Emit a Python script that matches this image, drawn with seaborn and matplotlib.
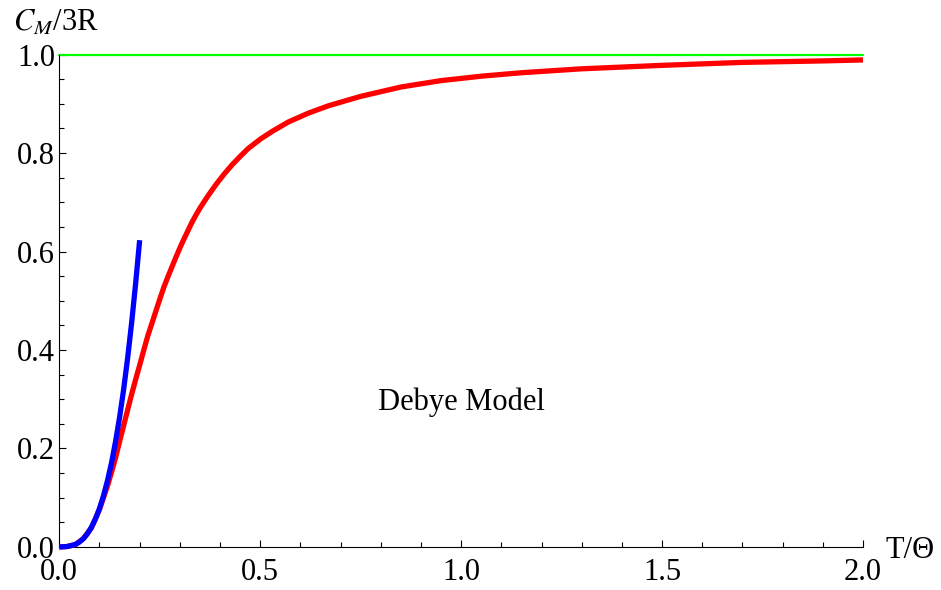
import numpy as np
import pandas as pd
import matplotlib
matplotlib.use("Agg")
import matplotlib.pyplot as plt
import seaborn as sns
from matplotlib.ticker import MultipleLocator, FixedLocator, FixedFormatter

# Debye model heat capacity (red)
debye_t = [0.00, 0.02, 0.04, 0.06, 0.08, 0.10, 0.12, 0.13, 0.14, 0.15, 0.16, 0.17, 0.18,
           0.19, 0.20, 0.21, 0.22, 0.23, 0.24, 0.25, 0.26, 0.27, 0.28, 0.29, 0.30, 0.31,
           0.32, 0.33, 0.34, 0.35, 0.37, 0.39, 0.41, 0.43, 0.45, 0.47, 0.50, 0.53, 0.57,
           0.62, 0.67, 0.75, 0.85, 0.95, 1.05, 1.15, 1.30, 1.50, 1.70, 1.90, 2.00]
debye_c = [0.000, 0.001, 0.005, 0.017, 0.039, 0.076, 0.124, 0.152, 0.181, 0.214, 0.246,
           0.278, 0.310, 0.340, 0.369, 0.399, 0.428, 0.453, 0.478, 0.503, 0.527, 0.548,
           0.568, 0.588, 0.607, 0.625, 0.642, 0.659, 0.674, 0.688, 0.713, 0.736, 0.757,
           0.776, 0.793, 0.809, 0.828, 0.844, 0.863, 0.881, 0.896, 0.915, 0.934, 0.947,
           0.956, 0.963, 0.971, 0.978, 0.984, 0.987, 0.989]

# Low-temperature T^3 law (blue)
lowt_t = [0.00, 0.02, 0.04, 0.05, 0.06, 0.07, 0.08, 0.09, 0.10, 0.11, 0.12, 0.13, 0.14,
          0.15, 0.16, 0.17, 0.18, 0.19, 0.20]
lowt_c = [0.000, 0.001, 0.005, 0.010, 0.017, 0.027, 0.040, 0.057, 0.078, 0.104, 0.135,
          0.171, 0.214, 0.263, 0.319, 0.383, 0.455, 0.535, 0.623]

# Classical (Dulong-Petit) limit (green)
classic_t = [0.0, 2.0]
classic_c = [1.0, 1.0]

x_ticks = [0.0, 0.5, 1.0, 1.5, 2.0]
x_labels = ["0.0", "0.5", "1.0", "1.5", "2.0"]
y_ticks = [0.0, 0.2, 0.4, 0.6, 0.8, 1.0]
y_labels = ["0.0", "0.2", "0.4", "0.6", "0.8", "1.0"]

sns.set_style("white")
plt.rcParams['font.family'] = ['Liberation Serif', 'DejaVu Serif']
plt.rcParams['mathtext.fontset'] = 'stix'
plt.rcParams['text.color'] = 'black'

FS = 22

fig = plt.figure(figsize=(9.41, 5.90), dpi=100)
ax = fig.add_axes([0.0630, 0.0729, 0.8541, 0.8347])

df_red = pd.DataFrame({"t": debye_t, "c": debye_c})
df_blue = pd.DataFrame({"t": lowt_t, "c": lowt_c})
df_green = pd.DataFrame({"t": classic_t, "c": classic_c})

sns.lineplot(data=df_green, x="t", y="c", ax=ax, color="#00FF00", linewidth=1.6,
             clip_on=False, sort=False, zorder=2)
sns.lineplot(data=df_red, x="t", y="c", ax=ax, color="#FF0000", linewidth=3.8,
             clip_on=False, sort=False, zorder=3, solid_capstyle="butt",
             solid_joinstyle="round")
sns.lineplot(data=df_blue, x="t", y="c", ax=ax, color="#0000FF", linewidth=3.8,
             clip_on=False, sort=False, zorder=4, solid_capstyle="butt",
             solid_joinstyle="round")

ax.set_xlim(0, 2.0)
ax.set_ylim(0, 1.0)
ax.set_xlabel("")
ax.set_ylabel("")

for s in ["top", "right"]:
    ax.spines[s].set_visible(False)
for s in ["left", "bottom"]:
    ax.spines[s].set_color("black")
    ax.spines[s].set_linewidth(0.8)

ax.xaxis.set_major_locator(FixedLocator(x_ticks))
ax.xaxis.set_major_formatter(FixedFormatter(x_labels))
ax.yaxis.set_major_locator(FixedLocator(y_ticks))
ax.yaxis.set_major_formatter(FixedFormatter(y_labels))
ax.xaxis.set_minor_locator(MultipleLocator(0.1))
ax.yaxis.set_minor_locator(MultipleLocator(0.05))

ax.tick_params(which="both", direction="in", color="black", width=0.8,
               labelsize=FS, labelcolor="black")
ax.tick_params(which="major", length=5.2)
ax.tick_params(which="minor", length=3.3)
ax.tick_params(axis="x", which="major", pad=8)
ax.tick_params(axis="y", which="major", pad=3)
ax.tick_params(which="both", bottom=True, left=True, top=False, right=False)

ax.text(1.0, 0.294, "Debye Model", fontsize=FS, ha="center", va="center", color="black")

fig.text(13 / 941, 1 - 31 / 590, r"$C_M$/3R", fontsize=FS, ha="left", va="baseline",
         color="black")
fig.text(885 / 941, 1 - 558 / 590, "T/Θ", fontsize=FS, ha="left", va="baseline",
         color="black")

fig.savefig("out.png", dpi=100)
